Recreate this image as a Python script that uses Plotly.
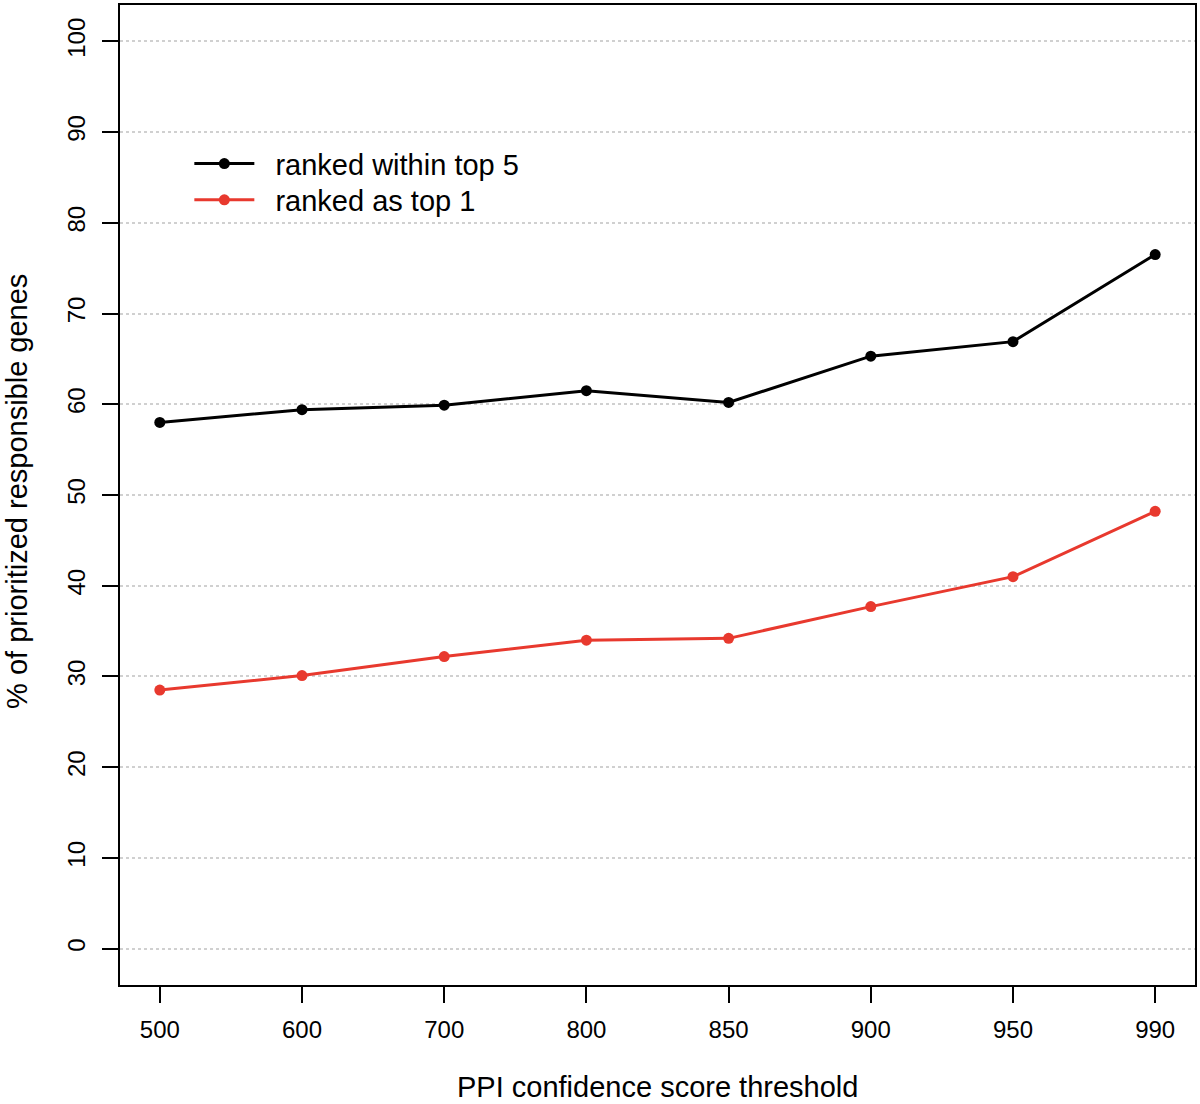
import plotly.graph_objects as go

thresholds = ["500", "600", "700", "800", "850", "900", "950", "990"]
top5 = [58.0, 59.4, 59.9, 61.5, 60.2, 65.3, 66.9, 76.5]
top1 = [28.5, 30.1, 32.2, 34.0, 34.2, 37.7, 41.0, 48.2]
y_ticks = [0, 10, 20, 30, 40, 50, 60, 70, 80, 90, 100]

FONT = "Liberation Sans, Arial, Helvetica, sans-serif"
RED = "#e8392e"
PAD = "\u00a0\u00a0"

xi = list(range(len(thresholds)))

fig = go.Figure()
fig.add_trace(go.Scatter(
    x=xi, y=top5, mode="lines+markers", name=PAD + "ranked within top 5",
    line=dict(color="black", width=3), marker=dict(color="black", size=11),
    legend="legend",
))
fig.add_trace(go.Scatter(
    x=xi, y=top1, mode="lines+markers", name=PAD + "ranked as top 1",
    line=dict(color=RED, width=3), marker=dict(color=RED, size=11),
    legend="legend2",
))

leg_common = dict(
    xanchor="left", yanchor="middle",
    bgcolor="rgba(0,0,0,0)", borderwidth=0,
    font=dict(size=29, family=FONT), itemwidth=60,
)

fig.update_layout(
    width=1200, height=1104,
    margin=dict(l=120, r=5, t=3, b=119),
    paper_bgcolor="white", plot_bgcolor="white",
    font=dict(family=FONT, color="black"),
    showlegend=True,
    legend=dict(x=0.0645, y=0.838, **leg_common),
    legend2=dict(x=0.0645, y=0.801, **leg_common),
    xaxis=dict(
        range=[-0.28, 7.28], tickmode="array", tickvals=xi, ticktext=thresholds,
        showgrid=False, zeroline=False,
        showline=True, linecolor="black", linewidth=2, mirror=True,
        ticks="outside", ticklen=16, tickwidth=2, tickcolor="black",
        tickfont=dict(size=24, family=FONT), ticklabelstandoff=6,
    ),
    yaxis=dict(
        range=[-4, 104], tickmode="array", tickvals=y_ticks,
        ticktext=[str(v) for v in y_ticks], tickangle=-90,
        showgrid=True, gridcolor="#d0d0d0", gridwidth=1.5, griddash="dot",
        zeroline=False,
        showline=True, linecolor="black", linewidth=2, mirror=True,
        ticks="outside", ticklen=16, tickwidth=2, tickcolor="black",
        tickfont=dict(size=24, family=FONT), ticklabelstandoff=7,
    ),
    annotations=[
        dict(text="PPI confidence score threshold", xref="paper", yref="paper",
             x=0.5, y=-0.104, xanchor="center", yanchor="middle", showarrow=False,
             font=dict(size=29, family=FONT)),
        dict(text="% of prioritized responsible genes", xref="paper", yref="paper",
             x=-0.096, y=0.504, xanchor="center", yanchor="middle", showarrow=False,
             textangle=-90, font=dict(size=29, family=FONT)),
    ],
)

fig.write_html("out.html", config={"displayModeBar": False},
               post_script="document.body.style.margin='0';")
